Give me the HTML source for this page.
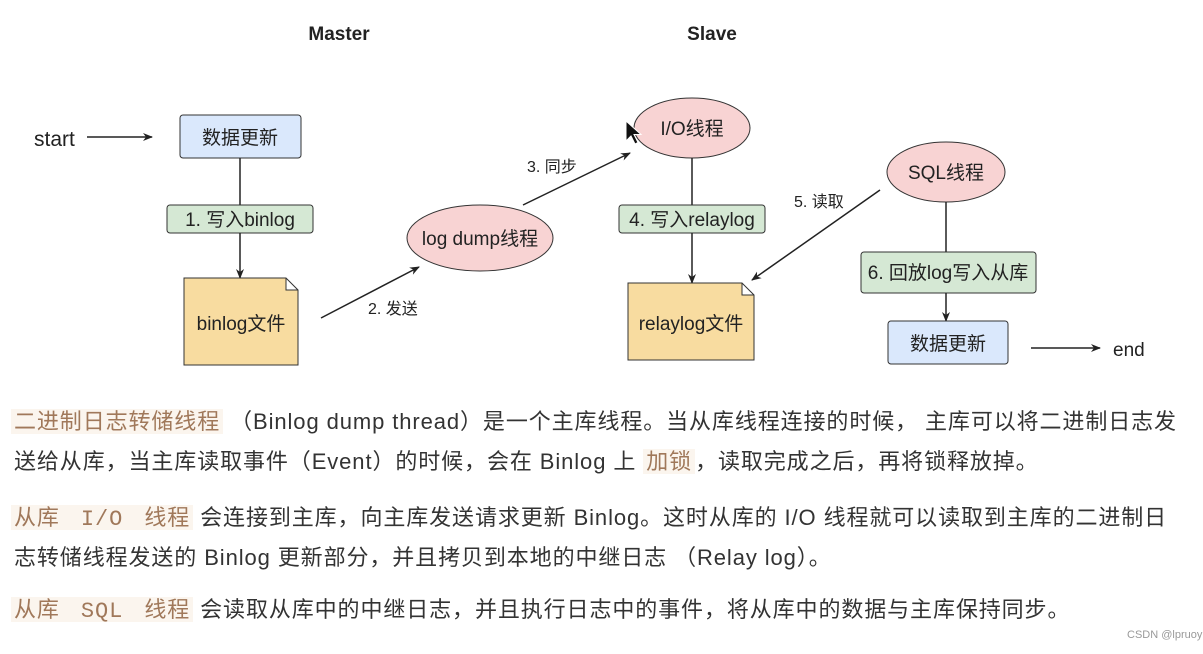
<!DOCTYPE html>
<html><head><meta charset="utf-8"><style>
body{margin:0;width:1203px;height:654px;background:#fff;position:relative;overflow:hidden;font-family:"Liberation Sans","Noto Sans CJK SC",sans-serif;}
.t{position:absolute;white-space:nowrap;font-size:22px;letter-spacing:0.9px;color:#333;line-height:30px;}
.h{color:#a0785a;background:#fbf5ee;padding:0 3px;}
.m{font-family:"Liberation Mono","Noto Sans CJK SC",monospace;}
</style></head><body>
<svg width="1203" height="380" style="position:absolute;left:0;top:0" font-family="Liberation Sans, Noto Sans CJK SC, sans-serif">
<defs><marker id="a" markerWidth="10" markerHeight="10" refX="9" refY="5" orient="auto" markerUnits="userSpaceOnUse"><path d="M0,1 L10,5 L0,9 L3,5z" fill="#222"/></marker></defs>
<g font-weight="bold" font-size="19" fill="#222" text-anchor="middle"><text x="339" y="40">Master</text><text x="712" y="40">Slave</text></g>
<text x="34" y="146" font-size="21" fill="#222">start</text>
<line x1="87" y1="137" x2="152" y2="137" stroke="#222" stroke-width="1.5" marker-end="url(#a)"/>
<rect x="180" y="115" width="121" height="43" rx="3" fill="#dae8fc" stroke="#333"/>
<text x="240" y="144" font-size="19" text-anchor="middle" fill="#222">数据更新</text>
<line x1="240" y1="158" x2="240" y2="205" stroke="#222" stroke-width="1.5"/>
<rect x="167" y="205" width="146" height="28" rx="3" fill="#d5e8d4" stroke="#333"/>
<text x="240" y="226" font-size="19" text-anchor="middle" fill="#222">1. 写入binlog</text>
<line x1="240" y1="233" x2="240" y2="278" stroke="#222" stroke-width="1.5" marker-end="url(#a)"/>
<path d="M184,278 H286 L298,290 V365 H184Z M286,278 V290 H298" fill="#f8dca0" stroke="#333"/>
<text x="241" y="330" font-size="19" text-anchor="middle" fill="#222">binlog文件</text>
<line x1="321" y1="318" x2="419" y2="267" stroke="#222" stroke-width="1.5" marker-end="url(#a)"/>
<text x="368" y="314" font-size="16" fill="#222">2. 发送</text>
<ellipse cx="480" cy="238" rx="73" ry="33" fill="#f8d3d3" stroke="#333"/>
<text x="480" y="245" font-size="19" text-anchor="middle" fill="#222">log dump线程</text>
<line x1="523" y1="205" x2="630" y2="153" stroke="#222" stroke-width="1.5" marker-end="url(#a)"/>
<text x="527" y="172" font-size="16" fill="#222">3. 同步</text>
<ellipse cx="692" cy="128" rx="58" ry="30" fill="#f8d3d3" stroke="#333"/>
<text x="692" y="135" font-size="19" text-anchor="middle" fill="#222">I/O线程</text>
<path d="M626,121 l0,20 l5,-5 l4,8 l3,-1.5 l-4,-8 l7,0z" fill="#111" stroke="#fff"/>
<line x1="692" y1="158" x2="692" y2="205" stroke="#222" stroke-width="1.5"/>
<rect x="619" y="205" width="146" height="28" rx="3" fill="#d5e8d4" stroke="#333"/>
<text x="692" y="226" font-size="19" text-anchor="middle" fill="#222">4. 写入relaylog</text>
<line x1="692" y1="233" x2="692" y2="283" stroke="#222" stroke-width="1.5" marker-end="url(#a)"/>
<path d="M628,283 H742 L754,295 V360 H628Z M742,283 V295 H754" fill="#f8dca0" stroke="#333"/>
<text x="691" y="330" font-size="19" text-anchor="middle" fill="#222">relaylog文件</text>
<line x1="880" y1="190" x2="752" y2="280" stroke="#222" stroke-width="1.5" marker-end="url(#a)"/>
<text x="794" y="207" font-size="16" fill="#222">5. 读取</text>
<ellipse cx="946" cy="172" rx="59" ry="30" fill="#f8d3d3" stroke="#333"/>
<text x="946" y="179" font-size="19" text-anchor="middle" fill="#222">SQL线程</text>
<line x1="946" y1="202" x2="946" y2="252" stroke="#222" stroke-width="1.5"/>
<rect x="861" y="252" width="175" height="41" rx="3" fill="#d5e8d4" stroke="#333"/>
<text x="948" y="279" font-size="19" text-anchor="middle" fill="#222">6. 回放log写入从库</text>
<line x1="946" y1="293" x2="946" y2="321" stroke="#222" stroke-width="1.5" marker-end="url(#a)"/>
<rect x="888" y="321" width="120" height="43" rx="3" fill="#dae8fc" stroke="#333"/>
<text x="948" y="350" font-size="19" text-anchor="middle" fill="#222">数据更新</text>
<line x1="1031" y1="348" x2="1100" y2="348" stroke="#222" stroke-width="1.5" marker-end="url(#a)"/>
<text x="1113" y="356" font-size="19" fill="#222">end</text>
</svg>
<div class="t" style="left:11px;top:407px"><span class="h">二进制日志转储线程</span> （Binlog dump thread）是一个主库线程。当从库线程连接的时候， 主库可以将二进制日志发</div>
<div class="t" style="left:14px;top:447px">送给从库，当主库读取事件（Event）的时候，会在 Binlog 上 <span class="h">加锁</span>，读取完成之后，再将锁释放掉。</div>
<div class="t" style="left:11px;top:503px"><span class="h">从库 <span class="m">&nbsp;I/O&nbsp;</span> 线程</span> 会连接到主库，向主库发送请求更新 Binlog。这时从库的 I/O 线程就可以读取到主库的二进制日</div>
<div class="t" style="left:14px;top:543px">志转储线程发送的 Binlog 更新部分，并且拷贝到本地的中继日志 （Relay log）。</div>
<div class="t" style="left:11px;top:595px"><span class="h">从库 <span class="m">&nbsp;SQL&nbsp;</span> 线程</span> 会读取从库中的中继日志，并且执行日志中的事件，将从库中的数据与主库保持同步。</div>
<div class="t" style="left:1127px;top:628px;font-size:11px;letter-spacing:0;color:#999;line-height:14px">CSDN @lpruoyu</div>
</body></html>
